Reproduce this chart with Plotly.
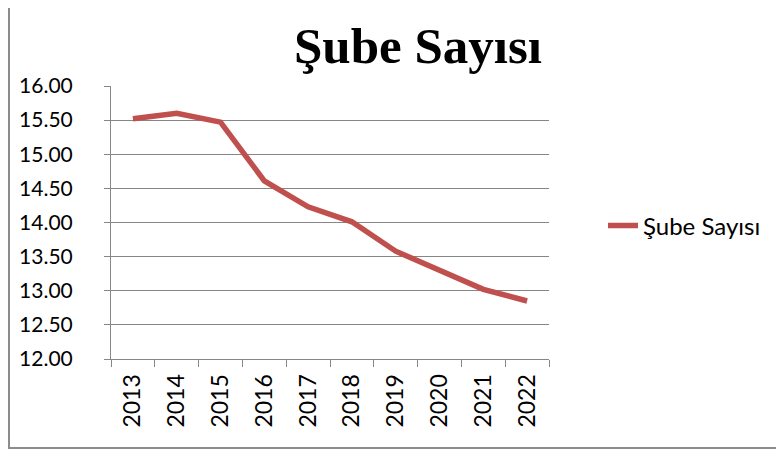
import plotly.graph_objects as go

years = ["2013", "2014", "2015", "2016", "2017", "2018", "2019", "2020", "2021", "2022"]
sube_sayisi = [15.52, 15.60, 15.47, 14.61, 14.23, 14.01, 13.58, 13.30, 13.02, 12.85]
y_ticks = [12.0, 12.5, 13.0, 13.5, 14.0, 14.5, 15.0, 15.5, 16.0]
series_name = "Şube Sayısı"
title_text = "Şube Sayısı"

# the page body has an 8px margin, so the figure is laid out 8px smaller
W, H = 776, 443
L, R, T, B = 103, 235, 78, 92
pw, ph = W - L - R, H - T - B

grid = "#868686"
fig = go.Figure()
fig.add_trace(go.Scatter(
    x=years, y=sube_sayisi, mode="lines", name=series_name,
    line=dict(color="#C0504D", width=5.5),
))

fig.update_layout(
    width=W, height=H,
    margin=dict(l=L, r=R, t=T, b=B, autoexpand=False),
    paper_bgcolor="white", plot_bgcolor="white",
    title=dict(text="<b>" + title_text + "</b>", x=410 / W, xanchor="center",
               y=1 - 37 / H, yanchor="middle", xref="container", yref="container",
               font=dict(family="Liberation Serif", size=51, color="black")),
    showlegend=True,
    legend=dict(x=595 / W, xref="container", y=1 - 218 / H, yref="container",
                xanchor="left", yanchor="middle",
                font=dict(family="Lato", size=24, color="black"),
                bgcolor="rgba(0,0,0,0)"),
    shapes=[dict(type="rect", xref="paper", yref="paper",
                 x0=(1 - L) / pw, x1=1 + 260 / pw, y0=-(440 - (H - B)) / ph, y1=1 + 100 / ph,
                 line=dict(color="#8c8c8c", width=2), layer="below")],
)
fig.update_xaxes(
    type="category", showgrid=False, showline=True, linecolor=grid, linewidth=1,
    ticks="outside", tickson="boundaries", ticklen=7, tickcolor=grid,
    ticklabelstandoff=5,
    tickangle=-90, tickfont=dict(family="Lato", size=23, color="black"),
    range=[-0.5, 9.5],
)
fig.update_yaxes(
    range=[12, 16], tickvals=y_ticks, tickformat=".2f",
    showgrid=True, gridcolor=grid, gridwidth=1,
    showline=True, linecolor=grid, linewidth=1,
    ticks="outside", ticklen=6, tickcolor=grid,
    ticklabelstandoff=27,
    tickfont=dict(family="Lato", size=21, color="black"),
    zeroline=False,
)
fig.write_html("out.html")
